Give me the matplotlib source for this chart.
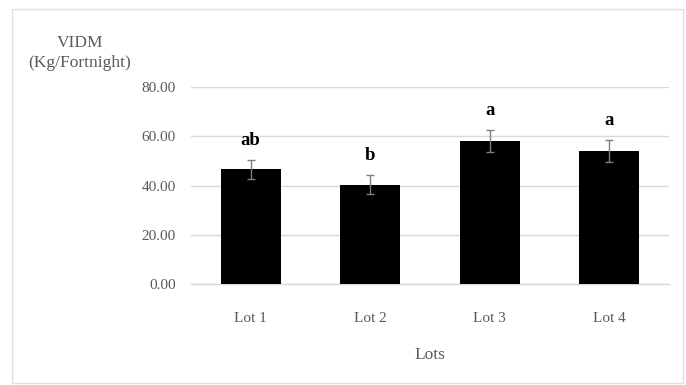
import matplotlib
matplotlib.use("Agg")
import matplotlib.pyplot as plt
from matplotlib.patches import Rectangle

lots = ["Lot 1", "Lot 2", "Lot 3", "Lot 4"]
vidm = [46.5, 40.4, 58.0, 54.0]
errors = [4.0, 4.0, 4.4, 4.3]
groups = ["ab", "b", "a", "a"]
y_ticks = [0, 20, 40, 60, 80]

plt.rcParams["font.family"] = ["Liberation Serif", "DejaVu Serif"]
grey_text = "#595959"

fig = plt.figure(figsize=(6.86, 3.85), dpi=100)
fig.patch.set_facecolor("white")

# chart frame
fig.add_artist(Rectangle((12 / 686, 1 - 383 / 385), 671 / 686, 374 / 385,
                         transform=fig.transFigure, fill=False,
                         edgecolor="#e0e0e0", linewidth=1.0))

ax = fig.add_axes([191 / 686, 1 - 284 / 385, 478 / 686, 197 / 385])
x = range(len(lots))
ax.bar(x, vidm, width=0.5, color="black", zorder=3)
ax.errorbar(x, vidm, yerr=errors, fmt="none", ecolor="#7f7f7f",
            elinewidth=1.0, capsize=3, capthick=1.0, zorder=4)

for xi, v, e, g in zip(x, vidm, errors, groups):
    ax.text(xi, v + e + 4.5, g, ha="center", va="bottom",
            fontsize=13.5, fontweight="bold", color="black")

ax.set_xlim(-0.5, len(lots) - 0.5)
ax.set_ylim(0, 80)
ax.set_yticks(y_ticks)
ax.set_yticklabels([f"{t:.2f}" for t in y_ticks])
ax.set_xticks(list(x))
ax.set_xticklabels(lots)
ax.tick_params(axis="both", length=0, labelsize=11, colors=grey_text)
ax.tick_params(axis="y", pad=11)
ax.tick_params(axis="x", pad=20)
ax.yaxis.grid(True, color="#d9d9d9", linewidth=1.0, zorder=0)
for side in ["top", "right", "left"]:
    ax.spines[side].set_visible(False)
ax.spines["bottom"].set_color("#d9d9d9")
ax.spines["bottom"].set_linewidth(1.0)

ax.set_xlabel("Lots", fontsize=12.5, color=grey_text, labelpad=16)
fig.text(80 / 686, 1 - 53 / 385, "VIDM\n(Kg/Fortnight)", ha="center",
         va="center", fontsize=12.5, color=grey_text, linespacing=1.4)

fig.savefig("out.png", dpi=100)
